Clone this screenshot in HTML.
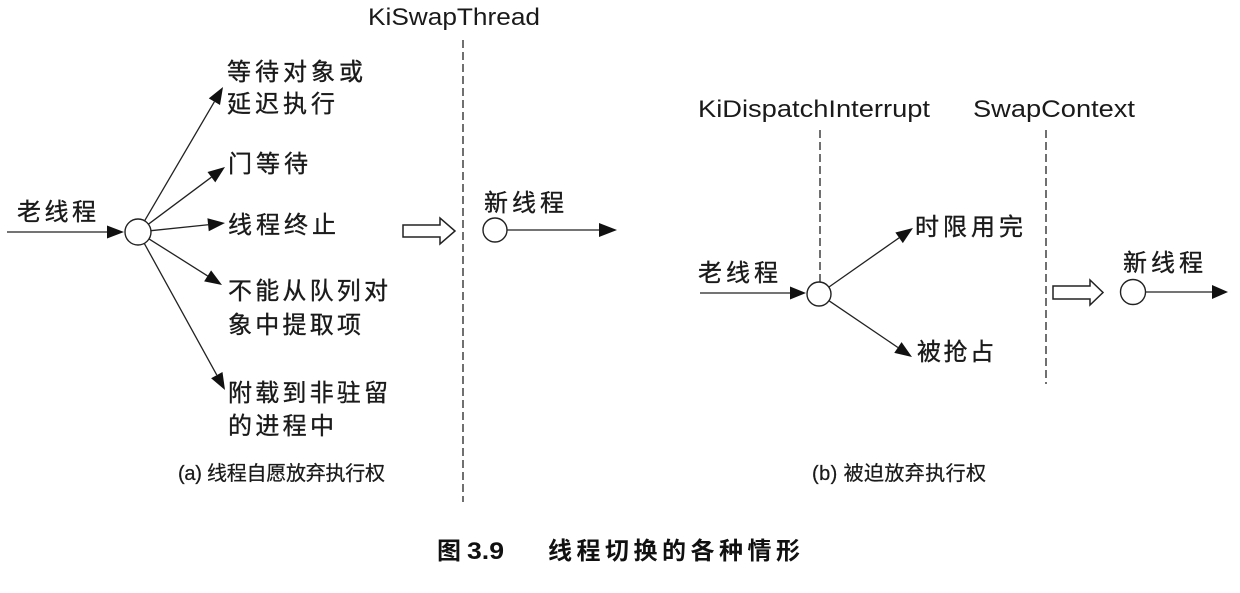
<!DOCTYPE html>
<html>
<head>
<meta charset="utf-8">
<style>
  html, body { margin: 0; padding: 0; background: #ffffff; }
  svg { display: block; }
  .cjk { font-family: "Liberation Sans", "Noto Sans CJK SC", sans-serif; font-size: 24px; fill: #1a1a1a; stroke: #1a1a1a; stroke-width: 0.35; }
  .lat { font-family: "Liberation Sans", "Noto Sans CJK SC", sans-serif; font-size: 24px; fill: #1a1a1a; }
  .cap { font-family: "Liberation Sans", "Noto Sans CJK SC", sans-serif; font-size: 20px; fill: #1a1a1a; stroke: #1a1a1a; stroke-width: 0.25; }
  .fig { font-family: "Liberation Sans", "Noto Sans CJK SC", sans-serif; font-size: 24px; font-weight: bold; fill: #111; }
</style>
</head>
<body>
<svg width="1240" height="593" viewBox="0 0 1240 593" xmlns="http://www.w3.org/2000/svg">
  <rect width="1240" height="593" fill="#ffffff"/>

  <!-- ===== (a) left diagram ===== -->
  <text class="lat" x="368" y="25" textLength="172" lengthAdjust="spacingAndGlyphs">KiSwapThread</text>
  <line x1="463" y1="40" x2="463" y2="502" stroke="#333" stroke-width="1.4" stroke-dasharray="8,4"/>

  <text class="cjk" x="17" y="220" textLength="79" lengthAdjust="spacing">老线程</text>
  <line x1="7" y1="232" x2="108" y2="232" stroke="#222" stroke-width="1.3"/>
  <polygon points="124,232 107,225.5 107,238.5" fill="#111"/>
  <circle cx="138" cy="232" r="13" fill="#fff" stroke="#222" stroke-width="1.4"/>

  <!-- branch 1 -->
  <line x1="144.6" y1="220.8" x2="214.4" y2="101.7" stroke="#222" stroke-width="1.3"/>
  <polygon points="223,87 220,104.95 208.8,98.37" fill="#111"/>
  <!-- branch 2 -->
  <line x1="148.4" y1="224.2" x2="211.4" y2="177.2" stroke="#222" stroke-width="1.3"/>
  <polygon points="225,167 215.27,182.38 207.49,171.96" fill="#111"/>
  <!-- branch 3 -->
  <line x1="150.9" y1="230.7" x2="208.1" y2="224.75" stroke="#222" stroke-width="1.3"/>
  <polygon points="225,223 208.76,231.22 207.42,218.28" fill="#111"/>
  <!-- branch 4 -->
  <line x1="149" y1="238.9" x2="207.6" y2="275.9" stroke="#222" stroke-width="1.3"/>
  <polygon points="222,285 204.15,281.43 211.09,270.43" fill="#111"/>
  <!-- branch 5 -->
  <line x1="144.3" y1="243.4" x2="216.8" y2="375.1" stroke="#222" stroke-width="1.3"/>
  <polygon points="225,390 211.11,378.24 222.49,371.98" fill="#111"/>

  <text class="cjk" x="227" y="80" textLength="136" lengthAdjust="spacing">等待对象或</text>
  <text class="cjk" x="227" y="112" textLength="108" lengthAdjust="spacing">延迟执行</text>
  <text class="cjk" x="228" y="172" textLength="80" lengthAdjust="spacing">门等待</text>
  <text class="cjk" x="228" y="233" textLength="108" lengthAdjust="spacing">线程终止</text>
  <text class="cjk" x="228" y="299" textLength="160" lengthAdjust="spacing">不能从队列对</text>
  <text class="cjk" x="228" y="333" textLength="133" lengthAdjust="spacing">象中提取项</text>
  <text class="cjk" x="228" y="401" textLength="160" lengthAdjust="spacing">附载到非驻留</text>
  <text class="cjk" x="228" y="434" textLength="106" lengthAdjust="spacing">的进程中</text>

  <!-- hollow arrow (a) -->
  <polygon points="403,225 440,225 440,218 455,231 440,244 440,237 403,237" fill="#fff" stroke="#222" stroke-width="1.5" stroke-linejoin="miter"/>

  <text class="cjk" x="484" y="211" textLength="80" lengthAdjust="spacing">新线程</text>
  <circle cx="495" cy="230" r="12" fill="#fff" stroke="#222" stroke-width="1.4"/>
  <line x1="507" y1="230" x2="600" y2="230" stroke="#222" stroke-width="1.3"/>
  <polygon points="617,230 599,223 599,237" fill="#111"/>

  <!-- ===== (b) right diagram ===== -->
  <text class="lat" x="698" y="117" textLength="232" lengthAdjust="spacingAndGlyphs">KiDispatchInterrupt</text>
  <text class="lat" x="973" y="117" textLength="162" lengthAdjust="spacingAndGlyphs">SwapContext</text>
  <line x1="820" y1="130" x2="820" y2="282" stroke="#333" stroke-width="1.4" stroke-dasharray="8,4"/>
  <line x1="1046" y1="130" x2="1046" y2="384" stroke="#333" stroke-width="1.4" stroke-dasharray="8,4"/>

  <text class="cjk" x="698" y="281" textLength="80" lengthAdjust="spacing">老线程</text>
  <line x1="700" y1="293" x2="791" y2="293" stroke="#222" stroke-width="1.3"/>
  <polygon points="806,293 790,286.5 790,299.5" fill="#111"/>
  <circle cx="819" cy="294" r="12" fill="#fff" stroke="#222" stroke-width="1.4"/>

  <line x1="828.8" y1="287.1" x2="899.1" y2="237.8" stroke="#222" stroke-width="1.3"/>
  <polygon points="913,228 902.83,243.08 895.37,232.44" fill="#111"/>
  <line x1="828.9" y1="300.7" x2="897.9" y2="347.5" stroke="#222" stroke-width="1.3"/>
  <polygon points="912,357 894.27,352.84 901.57,342.08" fill="#111"/>

  <text class="cjk" x="915" y="235" textLength="108" lengthAdjust="spacing">时限用完</text>
  <text class="cjk" x="917" y="360" textLength="77" lengthAdjust="spacing">被抢占</text>

  <!-- hollow arrow (b) -->
  <polygon points="1053,286 1090,286 1090,280 1103,292.5 1090,305 1090,299 1053,299" fill="#fff" stroke="#222" stroke-width="1.5"/>

  <text class="cjk" x="1123" y="271" textLength="80" lengthAdjust="spacing">新线程</text>
  <circle cx="1133" cy="292" r="12.5" fill="#fff" stroke="#222" stroke-width="1.4"/>
  <line x1="1145.5" y1="292" x2="1213" y2="292" stroke="#222" stroke-width="1.3"/>
  <polygon points="1228,292 1212,285 1212,299" fill="#111"/>

  <!-- ===== captions ===== -->
  <text class="cap" x="178" y="480" textLength="207" lengthAdjust="spacing">(a) 线程自愿放弃执行权</text>
  <text class="cap" x="812" y="480" textLength="174" lengthAdjust="spacing">(b) 被迫放弃执行权</text>

  <text class="fig" x="437" y="559">图</text>
  <text class="fig" x="467" y="559" textLength="37" lengthAdjust="spacingAndGlyphs">3.9</text>
  <text class="fig" x="548" y="559" textLength="252" lengthAdjust="spacing">线程切换的各种情形</text>
</svg>
</body>
</html>
